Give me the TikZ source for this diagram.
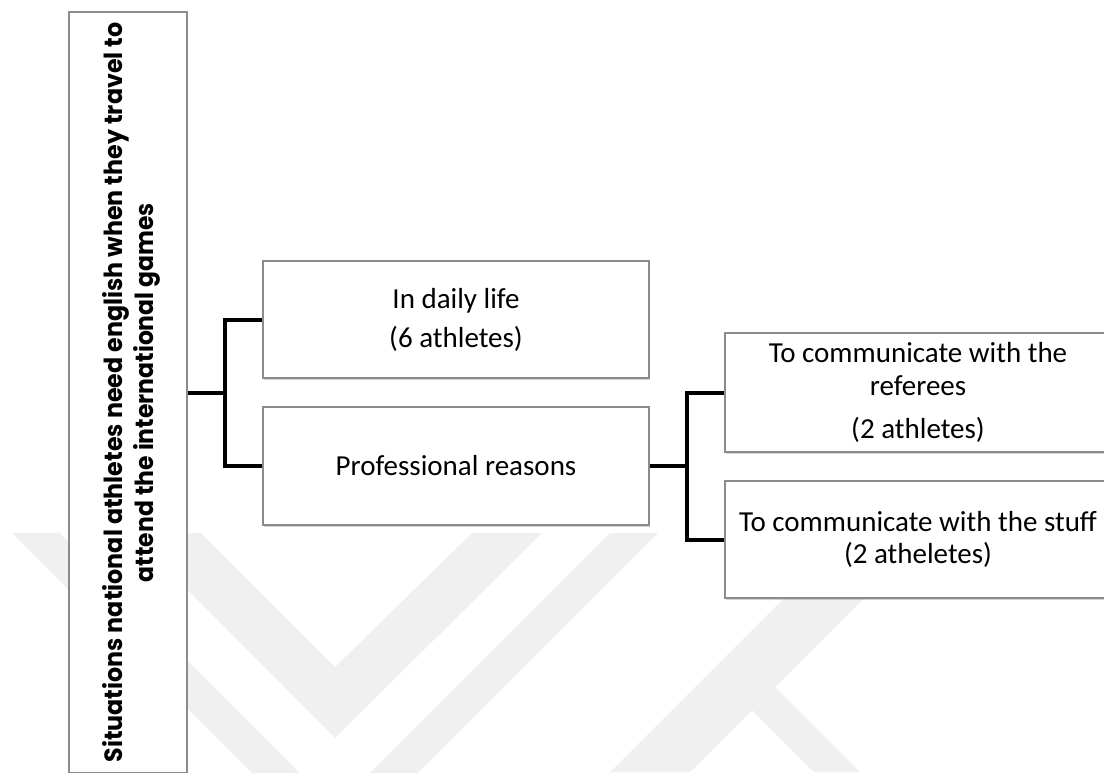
\documentclass[tikz,border=0pt]{standalone}
\usepackage{fontspec}
\setmainfont{Carlito}
\newfontfamily\titlefont{Poppins}
\usetikzlibrary{shadows}
\begin{document}
\begin{tikzpicture}[x=1pt,y=-1pt,
  wm/.style={fill=black!6, draw=none},
  box/.style={rectangle, draw=black!45, line width=1.1pt, fill=white, inner sep=0pt,
    drop shadow={shadow xshift=1.2pt, shadow yshift=-2.4pt, opacity=0.35}},
  lbl/.style={font=\fontsize{29}{33}\selectfont, align=center},
  conn/.style={line width=4pt, line join=miter},
  titleline/.style={rotate=90, anchor=base, inner sep=0pt, font=\titlefont\bfseries\fontsize{26}{30}\selectfont}]
\useasboundingbox (0,0) rectangle (1104,772);
\clip (0,0) rectangle (1104,772);

% faint watermark in the background
\fill[wm] (12,533) -- (60,533) -- (335,808) -- (610,533) -- (658,533) -- (335,856) -- cycle;
\fill[wm] (131,533) -- (201,533) -- (335,667) -- (472,533) -- (542,533) -- (335,738) -- cycle;
\fill[wm] (849,533) -- (929,533) -- (690,772) -- (610,772) -- cycle;
\fill[wm] (775,687) -- (860,772) -- (814,772) -- (752,710) -- cycle;

% root box with the rotated heading
\node[box, minimum width=118pt, minimum height=761pt] (root) at (128,392.5) {};
\node[titleline] (head1) at (122,392.5)
  {\resizebox{740pt}{20pt}{Situations national athletes need english when they travel to}};
\node[titleline] (head2) at (153,392.5)
  {\resizebox{379pt}{20pt}{attend the international games}};

% second level
\node[box, lbl, minimum width=386pt, minimum height=117pt] (daily) at (456,319.5)
  {In daily life\\[6pt](6 athletes)};
\node[box, lbl, minimum width=386pt, minimum height=118pt] (prof) at (456,466)
  {Professional reasons};

% third level
\node[box, lbl, minimum width=386pt, minimum height=119pt] (referees) at (918,392.5)
  {To communicate with the\\referees\\[10pt](2 athletes)};
\node[box, lbl, minimum width=386pt, minimum height=117pt] (staff) at (918,539.5)
  {To communicate with the stuff\\[-1pt](2 atheletes)};

% connectors
\coordinate (j1) at (225,392.75);
\coordinate (j2) at (687,466);
\draw[conn] (root.east |- j1) -- (j1);
\draw[conn] (daily.west) -| (j1) |- (prof.west);
\draw[conn] (prof.east) -- (j2);
\draw[conn] (referees.west) -| (j2) |- (staff.west);
\end{tikzpicture}
\end{document}
